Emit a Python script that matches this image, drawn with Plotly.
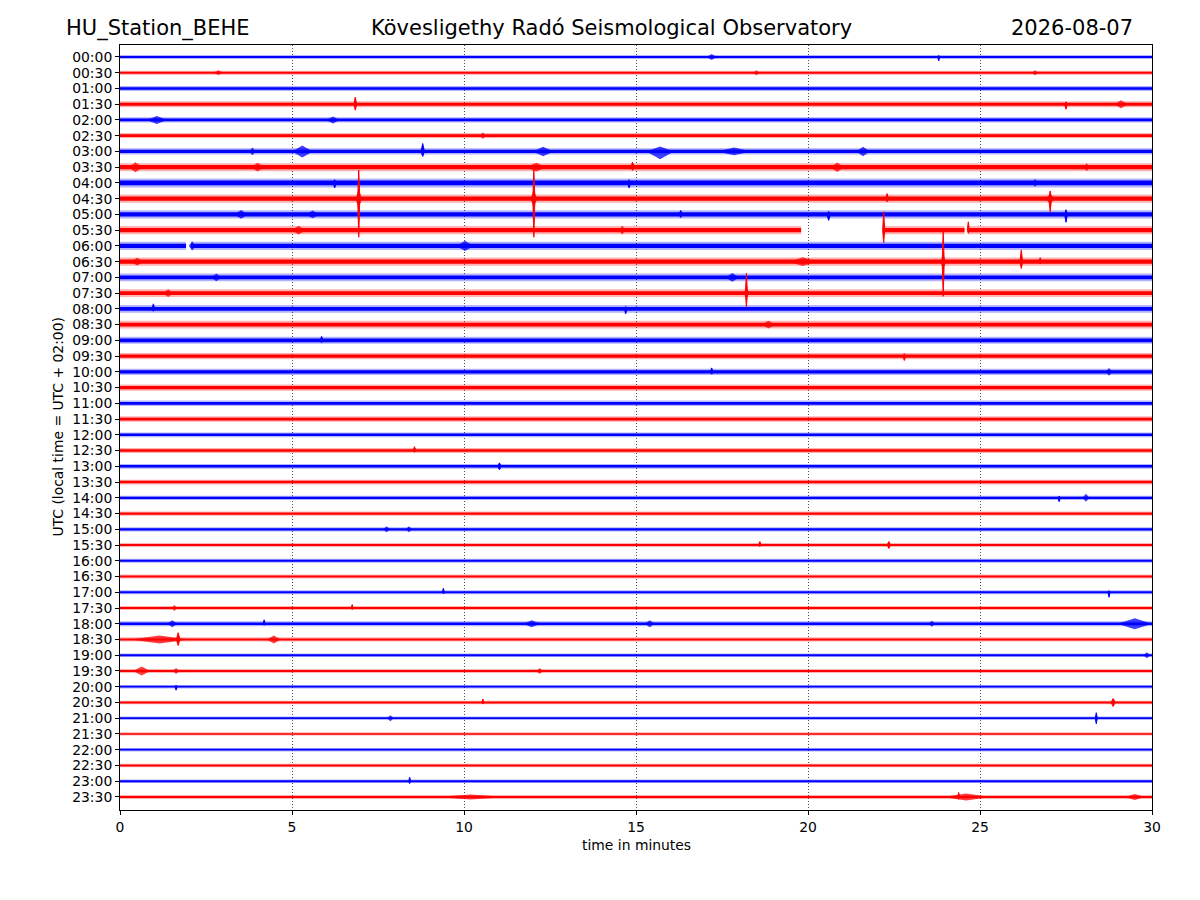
import plotly.graph_objects as go

# one trace line per half hour; values in units of the row spacing
row_labels = ["00:00", "00:30", "01:00", "01:30", "02:00", "02:30", "03:00", "03:30",
              "04:00", "04:30", "05:00", "05:30", "06:00", "06:30", "07:00", "07:30",
              "08:00", "08:30", "09:00", "09:30", "10:00", "10:30", "11:00", "11:30",
              "12:00", "12:30", "13:00", "13:30", "14:00", "14:30", "15:00", "15:30",
              "16:00", "16:30", "17:00", "17:30", "18:00", "18:30", "19:00", "19:30",
              "20:00", "20:30", "21:00", "21:30", "22:00", "22:30", "23:00", "23:30"]

# background noise half-amplitude per row
noise = [0.095, 0.095, 0.115, 0.14, 0.125, 0.125, 0.145, 0.19,
         0.21, 0.19, 0.19, 0.19, 0.19, 0.19, 0.18, 0.18,
         0.18, 0.18, 0.165, 0.15, 0.15, 0.15, 0.13, 0.13,
         0.115, 0.115, 0.11, 0.11, 0.10, 0.10, 0.10, 0.095,
         0.095, 0.09, 0.095, 0.09, 0.115, 0.10, 0.085, 0.095,
         0.08, 0.085, 0.08, 0.075, 0.08, 0.085, 0.085, 0.095]

# data gaps (row, start minute, end minute)
gap_row = ["05:30", "05:30", "06:00"]
gap_start = [19.8, 24.55, 1.92]
gap_end = [22.2, 24.65, 2.06]

# wavelets and spikes: row, minute, peak up, peak down, half duration (minutes)
ev_row = ["00:00", "00:00", "00:30", "00:30", "00:30", "01:30", "01:30", "01:30",
          "02:00", "02:00", "02:30", "03:00", "03:00", "03:00", "03:00", "03:00",
          "03:00", "03:00", "03:30", "03:30", "03:30", "03:30", "03:30", "03:30",
          "04:00", "04:00", "04:00", "04:30", "04:30", "04:30", "04:30", "04:30",
          "04:30", "04:30", "05:00", "05:00", "05:00", "05:00", "05:00", "05:30",
          "05:30", "05:30", "05:30", "06:00", "06:00", "06:30", "06:30", "06:30",
          "06:30", "06:30", "06:30", "07:00", "07:00", "07:30", "07:30", "07:30",
          "08:00", "08:00", "08:30", "09:00", "09:30", "10:00", "10:00", "12:30",
          "13:00", "14:00", "14:00", "15:00", "15:00", "15:30", "15:30", "17:00",
          "17:00", "17:30", "17:30", "18:00", "18:00", "18:00", "18:00", "18:00",
          "18:00", "18:30", "18:30", "18:30", "19:00", "19:30", "19:30", "19:30",
          "20:00", "20:30", "20:30", "21:00", "21:00", "23:00", "23:30", "23:30",
          "23:30", "23:30"]
ev_time = [17.2, 23.8, 2.86, 18.5, 26.6, 6.84, 29.1, 27.5,
           1.07, 6.19, 10.55, 3.85, 5.3, 8.8, 12.3, 15.7,
           17.85, 21.6, 0.45, 4.0, 12.1, 14.9, 20.85, 28.1,
           6.24, 14.8, 26.6, 6.94, 6.94, 12.03, 12.03, 22.3,
           27.04, 27.04, 3.52, 5.6, 16.3, 20.6, 27.5, 5.19,
           14.6, 22.2, 24.66, 2.1, 10.03, 0.5, 19.85, 23.93,
           23.93, 26.2, 26.75, 2.8, 17.8, 1.4, 18.21, 18.21,
           0.97, 14.7, 18.85, 5.86, 22.8, 17.2, 28.75, 8.56,
           11.03, 27.3, 28.08, 7.75, 8.4, 18.6, 22.35, 9.4,
           28.75, 1.58, 6.75, 1.52, 4.19, 11.97, 15.4, 23.6,
           29.5, 1.15, 1.69, 4.47, 29.85, 0.63, 1.63, 12.2,
           1.63, 10.55, 28.87, 7.86, 28.38, 8.42, 10.2, 24.6,
           24.38, 29.5]
ev_up = [0.19, 0.10, 0.15, 0.16, 0.16, 0.45, 0.25, 0.15,
         0.25, 0.22, 0.20, 0.25, 0.38, 0.50, 0.30, 0.32,
         0.25, 0.30, 0.32, 0.28, 0.28, 0.32, 0.30, 0.25,
         0.20, 0.20, 0.25, 1.82, 0.60, 1.84, 0.58, 0.32,
         0.49, 0.30, 0.28, 0.25, 0.25, 0.20, 0.30, 0.28,
         0.28, 1.17, 0.53, 0.30, 0.32, 0.25, 0.28, 1.90,
         0.50, 0.74, 0.25, 0.25, 0.28, 0.25, 1.26, 0.35,
         0.32, 0.15, 0.25, 0.25, 0.15, 0.25, 0.25, 0.25,
         0.22, 0.10, 0.25, 0.19, 0.19, 0.22, 0.22, 0.25,
         0.10, 0.19, 0.22, 0.22, 0.25, 0.22, 0.22, 0.19,
         0.35, 0.25, 0.43, 0.25, 0.19, 0.28, 0.19, 0.19,
         0.10, 0.22, 0.25, 0.19, 0.35, 0.25, 0.16, 0.22,
         0.28, 0.19]
ev_down = [0.19, 0.25, 0.15, 0.16, 0.16, 0.38, 0.25, 0.32,
           0.25, 0.22, 0.20, 0.25, 0.38, 0.32, 0.30, 0.50,
           0.25, 0.30, 0.32, 0.28, 0.28, 0.20, 0.30, 0.25,
           0.32, 0.32, 0.25, 2.45, 0.60, 2.45, 0.58, 0.20,
           0.83, 0.30, 0.28, 0.25, 0.20, 0.38, 0.50, 0.28,
           0.28, 0.80, 0.20, 0.30, 0.32, 0.25, 0.28, 2.20,
           0.50, 0.43, 0.15, 0.25, 0.28, 0.25, 0.86, 0.35,
           0.15, 0.32, 0.25, 0.15, 0.28, 0.15, 0.25, 0.10,
           0.22, 0.25, 0.25, 0.19, 0.19, 0.10, 0.22, 0.10,
           0.32, 0.19, 0.10, 0.22, 0.10, 0.22, 0.22, 0.19,
           0.35, 0.25, 0.38, 0.25, 0.19, 0.28, 0.19, 0.19,
           0.22, 0.10, 0.25, 0.19, 0.36, 0.15, 0.16, 0.22,
           0.15, 0.19]
ev_half = [0.15, 0.03, 0.15, 0.10, 0.10, 0.04, 0.20, 0.04,
           0.30, 0.20, 0.10, 0.10, 0.30, 0.05, 0.30, 0.40,
           0.50, 0.20, 0.20, 0.20, 0.30, 0.05, 0.20, 0.10,
           0.05, 0.05, 0.10, 0.03, 0.10, 0.03, 0.10, 0.04,
           0.04, 0.15, 0.20, 0.20, 0.05, 0.05, 0.04, 0.20,
           0.10, 0.03, 0.03, 0.10, 0.25, 0.20, 0.40, 0.03,
           0.08, 0.04, 0.04, 0.15, 0.20, 0.15, 0.03, 0.08,
           0.04, 0.04, 0.20, 0.04, 0.04, 0.04, 0.10, 0.04,
           0.05, 0.04, 0.10, 0.10, 0.10, 0.04, 0.05, 0.03,
           0.03, 0.08, 0.03, 0.15, 0.03, 0.25, 0.15, 0.10,
           0.50, 0.85, 0.05, 0.20, 0.10, 0.25, 0.10, 0.10,
           0.03, 0.03, 0.06, 0.10, 0.03, 0.03, 1.10, 0.70,
           0.03, 0.30]

colors = ["#0000ff", "#ff0000"]
soft = ["rgba(0,0,255,0.75)", "rgba(255,0,0,0.75)"]
halo = ["rgba(0,0,255,0.3)", "rgba(255,0,0,0.3)"]


def band_xy(scale):
    xs = [[], []]
    ys = [[], []]
    for i, lab in enumerate(row_labels):
        c = i % 2
        y0 = -i
        a = noise[i] * scale
        # split the half hour at the gaps
        cuts = sorted((s, e) for r, s, e in zip(gap_row, gap_start, gap_end) if r == lab)
        start = 0
        segs = []
        for s, e in cuts:
            segs.append((start, s))
            start = e
        segs.append((start, 30))
        for s, e in segs:
            xs[c] += [s, e, e, s, s, None]
            ys[c] += [y0 + a, y0 + a, y0 - a, y0 - a, y0 + a, None]
    return xs, ys


fig = go.Figure()

for scale, fills in [(1.35, halo), (0.7, colors)]:
    bx, by = band_xy(scale)
    for c in (0, 1):
        fig.add_trace(go.Scatter(x=bx[c], y=by[c], mode="lines", fill="toself",
                                 fillcolor=fills[c], line=dict(width=0),
                                 hoverinfo="skip", showlegend=False))

# broad wavelets drawn soft, sharp spikes drawn solid
ex = {k: [[], []] for k in ("broad", "spike")}
ey = {k: [[], []] for k in ("broad", "spike")}
for r, t, up, dn, w in zip(ev_row, ev_time, ev_up, ev_down, ev_half):
    i = row_labels.index(r)
    c = i % 2
    y0 = -i
    k = "spike" if w <= 0.06 else "broad"
    ex[k][c] += [t - w, t, t + w, t, t - w, None]
    ey[k][c] += [y0, y0 + up, y0, y0 - dn, y0, None]
for c in (0, 1):
    fig.add_trace(go.Scatter(x=ex["broad"][c], y=ey["broad"][c], mode="lines", fill="toself",
                             fillcolor=soft[c], line=dict(width=0),
                             hoverinfo="skip", showlegend=False))
for c in (0, 1):
    fig.add_trace(go.Scatter(x=ex["spike"][c], y=ey["spike"][c], mode="lines", fill="toself",
                             fillcolor=colors[c], line=dict(width=1, color=colors[c]),
                             hoverinfo="skip", showlegend=False))

font = dict(family="DejaVu Sans", size=13.9, color="black")

fig.update_layout(
    width=1200, height=900,
    margin=dict(l=112, r=56, t=37, b=98),
    plot_bgcolor="white", paper_bgcolor="white",
    font=font,
    xaxis=dict(range=[0, 30], tickvals=[0, 5, 10, 15, 20, 25, 30],
               showline=True, mirror=True, linecolor="black", linewidth=1,
               ticks="outside", ticklen=4, tickcolor="black",
               showgrid=True, griddash="1px,2px", gridcolor="rgba(0,0,0,0.7)", gridwidth=1,
               zeroline=False),
    yaxis=dict(range=[-47.83, 0.76], tickvals=[-i for i in range(len(row_labels))],
               ticktext=row_labels,
               showline=True, mirror=True, linecolor="black", linewidth=1,
               ticks="outside", ticklen=4, tickcolor="black",
               showgrid=False, zeroline=False),
    annotations=[
        dict(text="HU_Station_BEHE", xref="paper", yref="paper", x=-0.0543, y=1.022,
             xanchor="left", yanchor="middle", showarrow=False,
             font=dict(family="DejaVu Sans", size=21, color="black")),
        dict(text="Kövesligethy Radó Seismological Observatory", xref="paper", yref="paper",
             x=0.4758, y=1.022, xanchor="center", yanchor="middle", showarrow=False,
             font=dict(family="DejaVu Sans", size=21, color="black")),
        dict(text="2026-08-07", xref="paper", yref="paper", x=0.9835, y=1.022,
             xanchor="right", yanchor="middle", showarrow=False,
             font=dict(family="DejaVu Sans", size=21, color="black")),
        dict(text="UTC (local time = UTC + 02:00)", xref="paper", yref="paper",
             x=-0.061, y=0.5, textangle=-90, xanchor="center", yanchor="middle",
             showarrow=False, font=font),
        dict(text="time in minutes", xref="paper", yref="paper", x=0.5, y=-0.046,
             xanchor="center", yanchor="middle", showarrow=False, font=font),
    ],
)

fig.write_html("out.html")
